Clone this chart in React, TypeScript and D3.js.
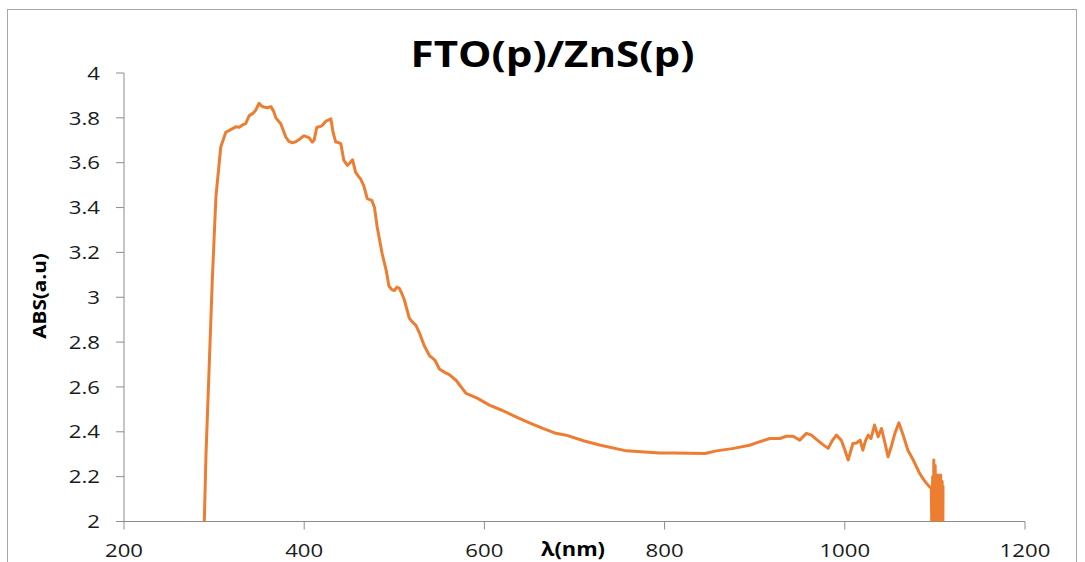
import React from "react";
import * as d3 from "d3";

const wavelength: number[] = [
  289, 291, 294, 298, 302, 307.4, 313, 320, 324, 328, 332, 335, 339, 343, 346, 350, 352, 355, 359, 363, 366, 368.5, 374, 379.6, 383, 387, 391, 394, 397, 400, 403, 405.6, 409, 411, 414, 417, 420, 424, 427, 429.6, 432, 435, 438, 440.7, 444, 448, 451, 453.7, 457, 460, 462.4, 466, 470, 475, 478, 481, 486.5, 491, 494, 497, 500, 503, 505.5, 508, 511, 516.7, 520, 524, 528, 533, 539, 545, 550, 556, 561, 568.5, 579.6, 592, 605.6, 620, 635, 650, 664.8, 678, 690.7, 710, 727.8, 757.4, 794.4, 810, 827.8, 845, 857.4, 875, 894.4, 905, 916.7, 927.8, 935, 942.6, 950, 957.4, 963, 968.5, 975, 981.5, 986, 990.7, 996, 1000, 1003.7, 1009, 1013, 1017, 1020, 1023, 1026, 1029, 1033, 1037, 1040.7, 1044, 1048, 1052, 1055.6, 1060, 1064.8, 1070, 1076, 1080, 1083, 1087, 1090.7, 1094, 1096, 1096.8, 1097.5, 1098.2, 1098.8, 1099.5, 1100.3, 1101, 1101.8, 1102.5, 1103.3, 1104, 1104.8, 1105.6, 1106.4, 1107.2, 1108, 1108.8, 1109,
];

const absorbance: number[] = [
  1.98, 2.3, 2.63, 3.076, 3.447, 3.67, 3.736, 3.751, 3.76, 3.758, 3.77, 3.774, 3.81, 3.82, 3.833, 3.865, 3.855, 3.848, 3.845, 3.85, 3.83, 3.8, 3.774, 3.714, 3.695, 3.689, 3.694, 3.702, 3.712, 3.72, 3.715, 3.711, 3.692, 3.7, 3.758, 3.76, 3.766, 3.785, 3.79, 3.796, 3.736, 3.692, 3.69, 3.684, 3.61, 3.588, 3.6, 3.613, 3.558, 3.54, 3.529, 3.499, 3.44, 3.432, 3.4, 3.313, 3.195, 3.12, 3.05, 3.035, 3.03, 3.045, 3.04, 3.02, 2.99, 2.906, 2.89, 2.875, 2.84, 2.786, 2.74, 2.72, 2.68, 2.665, 2.655, 2.63, 2.571, 2.55, 2.519, 2.495, 2.467, 2.44, 2.415, 2.395, 2.385, 2.36, 2.341, 2.315, 2.306, 2.305, 2.304, 2.303, 2.315, 2.325, 2.34, 2.355, 2.37, 2.37, 2.38, 2.38, 2.363, 2.393, 2.385, 2.366, 2.345, 2.326, 2.36, 2.385, 2.363, 2.32, 2.274, 2.348, 2.35, 2.363, 2.318, 2.36, 2.385, 2.37, 2.43, 2.378, 2.415, 2.36, 2.289, 2.34, 2.393, 2.44, 2.385, 2.318, 2.274, 2.24, 2.215, 2.19, 2.17, 2.155, 2.148, 1.9, 2.2, 1.9, 2.274, 1.9, 2.25, 1.9, 2.2, 1.9, 2.207, 1.9, 2.2, 1.9, 2.207, 1.9, 2.18, 1.9, 2.16, 1.9, 1.98,
];

const xTicks: number[] = [200, 400, 600, 800, 1000, 1200];
const yTicks: number[] = [2, 2.2, 2.4, 2.6, 2.8, 3, 3.2, 3.4, 3.6, 3.8, 4];

const W = 1085;
const H = 562;
const left = 124;
const right = 1025;
const top = 73;
const bottom = 521.5;

export default function App() {
  const x = d3.scaleLinear().domain([200, 1200]).range([left, right]);
  const y = d3.scaleLinear().domain([2, 4]).range([bottom, top]);
  const pts: [number, number][] = wavelength.map((w, i) => [w, absorbance[i]]);
  const line = d3
    .line<[number, number]>()
    .x((d) => x(d[0]))
    .y((d) => y(d[1]));
  const axisColor = "#8c8c8c";
  const font = "'Open Sans', 'Liberation Sans', sans-serif";
  const sx = 1.2;
  return (
    <svg
      width={W}
      height={H}
      style={{ position: "absolute", left: 0, top: 0, background: "#fff" }}
      fontFamily={font}
    >
      <rect x={0} y={0} width={W} height={H} fill="#fff" />
      <rect x={7.5} y={9.5} width={1069} height={600} fill="none" stroke="#a6a6a6" strokeWidth={1} />
      <text
        transform={`translate(552.5, 67) scale(1.17, 1)`}
        textAnchor="middle"
        fontSize={36}
        fontWeight="bold"
        fill="#000"
      >
        FTO(p)/ZnS(p)
      </text>
      <defs>
        <clipPath id="plotClip">
          <rect x={left} y={top - 10} width={right - left} height={bottom - top + 10} />
        </clipPath>
      </defs>
      {/* y axis */}
      <line x1={left} x2={left} y1={top} y2={bottom} stroke={axisColor} strokeWidth={1} />
      {yTicks.map((t) => (
        <g key={"y" + t}>
          <line x1={left - 8} x2={left} y1={y(t)} y2={y(t)} stroke={axisColor} />
          <text
            transform={`translate(100, ${y(t)}) scale(${sx}, 1)`}
            dy="0.36em"
            textAnchor="end"
            fontSize={18.5}
            fill="#1a1a1a"
          >
            {d3.format("~g")(t)}
          </text>
        </g>
      ))}
      {/* x axis */}
      <line x1={left} x2={right} y1={bottom} y2={bottom} stroke={axisColor} strokeWidth={1} />
      {xTicks.map((t) => (
        <g key={"x" + t}>
          <line x1={x(t)} x2={x(t)} y1={bottom} y2={bottom + 8} stroke={axisColor} />
          <text
            transform={`translate(${x(t)}, 557) scale(${sx}, 1)`}
            textAnchor="middle"
            fontSize={18.5}
            fill="#1a1a1a"
          >
            {t}
          </text>
        </g>
      ))}
      <text
        transform={`translate(573, 556) scale(1.15, 1)`}
        textAnchor="middle"
        fontSize={19}
        fontWeight="bold"
        fill="#000"
      >
        λ(nm)
      </text>
      <text
        transform={`translate(46, 296) rotate(-90) scale(1.15, 1)`}
        textAnchor="middle"
        fontSize={18}
        fontWeight="bold"
        fill="#000"
      >
        ABS(a.u)
      </text>
      <path
        d={line(pts) || ""}
        fill="none"
        stroke="#ED7D31"
        strokeWidth={3}
        strokeLinejoin="round"
        clipPath="url(#plotClip)"
      />
    </svg>
  );
}
